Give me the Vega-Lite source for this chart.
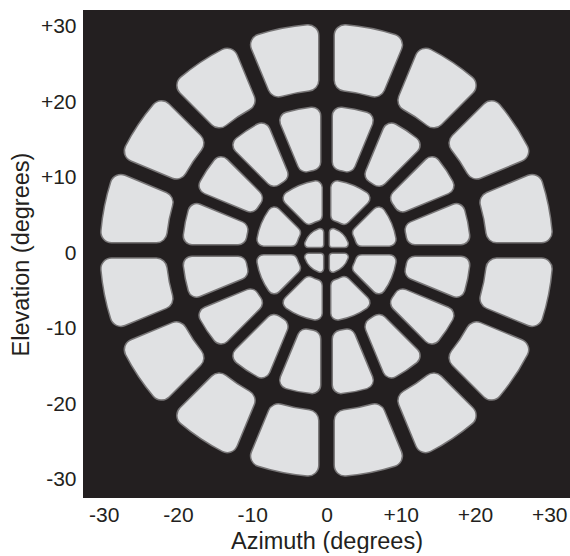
{
  "$schema": "https://vega.github.io/schema/vega-lite/v6.json",
  "width": 487,
  "height": 488,
  "padding": {"left": 9, "top": 10, "right": 1, "bottom": 0},
  "background": "white",
  "config": {
    "view": {"fill": "#231f20", "stroke": null},
    "font": "Liberation Sans",
    "axis": {
      "grid": false,
      "ticks": false,
      "tickSize": 0,
      "domain": false,
      "labelFont": "Liberation Sans",
      "labelFontSize": 21,
      "labelColor": "#231f20",
      "titleFont": "Liberation Sans",
      "titleFontSize": 23.5,
      "titleFontWeight": "normal",
      "titleColor": "#231f20"
    }
  },
  "data": {
    "values": [
      {"zone": 1, "t0": 0, "t1": 90, "r0": 0.8, "r1": 3.0},
      {"zone": 1, "t0": 90, "t1": 180, "r0": 0.8, "r1": 3.0},
      {"zone": 1, "t0": 180, "t1": 270, "r0": 0.8, "r1": 3.0},
      {"zone": 1, "t0": 270, "t1": 360, "r0": 0.8, "r1": 3.0},
      {"zone": 2, "t0": 0, "t1": 45, "r0": 4.2, "r1": 9.4},
      {"zone": 2, "t0": 45, "t1": 90, "r0": 4.2, "r1": 9.4},
      {"zone": 2, "t0": 90, "t1": 135, "r0": 4.2, "r1": 9.4},
      {"zone": 2, "t0": 135, "t1": 180, "r0": 4.2, "r1": 9.4},
      {"zone": 2, "t0": 180, "t1": 225, "r0": 4.2, "r1": 9.4},
      {"zone": 2, "t0": 225, "t1": 270, "r0": 4.2, "r1": 9.4},
      {"zone": 2, "t0": 270, "t1": 315, "r0": 4.2, "r1": 9.4},
      {"zone": 2, "t0": 315, "t1": 360, "r0": 4.2, "r1": 9.4},
      {"zone": 3, "t0": 0, "t1": 22.5, "r0": 11.0, "r1": 19.3},
      {"zone": 3, "t0": 22.5, "t1": 45, "r0": 11.0, "r1": 19.3},
      {"zone": 3, "t0": 45, "t1": 67.5, "r0": 11.0, "r1": 19.3},
      {"zone": 3, "t0": 67.5, "t1": 90, "r0": 11.0, "r1": 19.3},
      {"zone": 3, "t0": 90, "t1": 112.5, "r0": 11.0, "r1": 19.3},
      {"zone": 3, "t0": 112.5, "t1": 135, "r0": 11.0, "r1": 19.3},
      {"zone": 3, "t0": 135, "t1": 157.5, "r0": 11.0, "r1": 19.3},
      {"zone": 3, "t0": 157.5, "t1": 180, "r0": 11.0, "r1": 19.3},
      {"zone": 3, "t0": 180, "t1": 202.5, "r0": 11.0, "r1": 19.3},
      {"zone": 3, "t0": 202.5, "t1": 225, "r0": 11.0, "r1": 19.3},
      {"zone": 3, "t0": 225, "t1": 247.5, "r0": 11.0, "r1": 19.3},
      {"zone": 3, "t0": 247.5, "t1": 270, "r0": 11.0, "r1": 19.3},
      {"zone": 3, "t0": 270, "t1": 292.5, "r0": 11.0, "r1": 19.3},
      {"zone": 3, "t0": 292.5, "t1": 315, "r0": 11.0, "r1": 19.3},
      {"zone": 3, "t0": 315, "t1": 337.5, "r0": 11.0, "r1": 19.3},
      {"zone": 3, "t0": 337.5, "t1": 360, "r0": 11.0, "r1": 19.3},
      {"zone": 4, "t0": 0, "t1": 22.5, "r0": 21.7, "r1": 30.4},
      {"zone": 4, "t0": 22.5, "t1": 45, "r0": 21.7, "r1": 30.4},
      {"zone": 4, "t0": 45, "t1": 67.5, "r0": 21.7, "r1": 30.4},
      {"zone": 4, "t0": 67.5, "t1": 90, "r0": 21.7, "r1": 30.4},
      {"zone": 4, "t0": 90, "t1": 112.5, "r0": 21.7, "r1": 30.4},
      {"zone": 4, "t0": 112.5, "t1": 135, "r0": 21.7, "r1": 30.4},
      {"zone": 4, "t0": 135, "t1": 157.5, "r0": 21.7, "r1": 30.4},
      {"zone": 4, "t0": 157.5, "t1": 180, "r0": 21.7, "r1": 30.4},
      {"zone": 4, "t0": 180, "t1": 202.5, "r0": 21.7, "r1": 30.4},
      {"zone": 4, "t0": 202.5, "t1": 225, "r0": 21.7, "r1": 30.4},
      {"zone": 4, "t0": 225, "t1": 247.5, "r0": 21.7, "r1": 30.4},
      {"zone": 4, "t0": 247.5, "t1": 270, "r0": 21.7, "r1": 30.4},
      {"zone": 4, "t0": 270, "t1": 292.5, "r0": 21.7, "r1": 30.4},
      {"zone": 4, "t0": 292.5, "t1": 315, "r0": 21.7, "r1": 30.4},
      {"zone": 4, "t0": 315, "t1": 337.5, "r0": 21.7, "r1": 30.4},
      {"zone": 4, "t0": 337.5, "t1": 360, "r0": 21.7, "r1": 30.4}
    ]
  },
  "encoding": {
    "x": {
      "datum": 0,
      "type": "quantitative",
      "scale": {"domain": [-32.8, 32.8], "nice": false, "zero": false},
      "axis": {
        "title": "Azimuth (degrees)",
        "values": [-30, -20, -10, 0, 10, 20, 30],
        "labelExpr": "datum.value > 0 ? '+' + datum.value : '' + datum.value",
        "labelPadding": 6,
        "titlePadding": 4
      }
    },
    "y": {
      "datum": 0.4,
      "type": "quantitative",
      "scale": {"domain": [-32.4, 32.25], "nice": false, "zero": false},
      "axis": {
        "title": "Elevation (degrees)",
        "values": [-30, -20, -10, 0, 10, 20, 30],
        "labelExpr": "datum.value > 0 ? '+' + datum.value : '' + datum.value",
        "labelPadding": 7,
        "titlePadding": 7
      }
    },
    "theta": {
      "field": "t0",
      "type": "quantitative",
      "stack": null,
      "scale": {"domain": [0, 360], "range": [0, 6.283185307179586], "nice": false, "zero": true}
    },
    "theta2": {"field": "t1"},
    "radius": {
      "field": "r1",
      "type": "quantitative",
      "scale": {"type": "linear", "domain": [0, 32.8], "range": [0, {"expr": "width/2"}], "nice": false, "zero": true}
    },
    "radius2": {"field": "r0"}
  },
  "layer": [
    {"transform": [{"filter": "datum.zone == 1"}], "mark": {"type": "arc", "padAngle": 0.31, "fill": "transparent", "stroke": "#e0e1e3", "strokeWidth": 3, "strokeOpacity": 0.45, "cornerRadius": 3}},
    {"transform": [{"filter": "datum.zone == 1"}], "mark": {"type": "arc", "padAngle": 0.31, "fill": "#e0e1e3", "cornerRadius": 3}},
    {"transform": [{"filter": "datum.zone == 2"}], "mark": {"type": "arc", "padAngle": 0.13, "fill": "transparent", "stroke": "#e0e1e3", "strokeWidth": 3, "strokeOpacity": 0.45, "cornerRadius": 6}},
    {"transform": [{"filter": "datum.zone == 2"}], "mark": {"type": "arc", "padAngle": 0.13, "fill": "#e0e1e3", "cornerRadius": 6}},
    {"transform": [{"filter": "datum.zone == 3"}], "mark": {"type": "arc", "padAngle": 0.079, "fill": "transparent", "stroke": "#e0e1e3", "strokeWidth": 3, "strokeOpacity": 0.45, "cornerRadius": 8}},
    {"transform": [{"filter": "datum.zone == 3"}], "mark": {"type": "arc", "padAngle": 0.079, "fill": "#e0e1e3", "cornerRadius": 8}},
    {"transform": [{"filter": "datum.zone == 4"}], "mark": {"type": "arc", "padAngle": 0.061, "fill": "transparent", "stroke": "#e0e1e3", "strokeWidth": 3, "strokeOpacity": 0.45, "cornerRadius": 10}},
    {"transform": [{"filter": "datum.zone == 4"}], "mark": {"type": "arc", "padAngle": 0.061, "fill": "#e0e1e3", "cornerRadius": 10}}
  ]
}
